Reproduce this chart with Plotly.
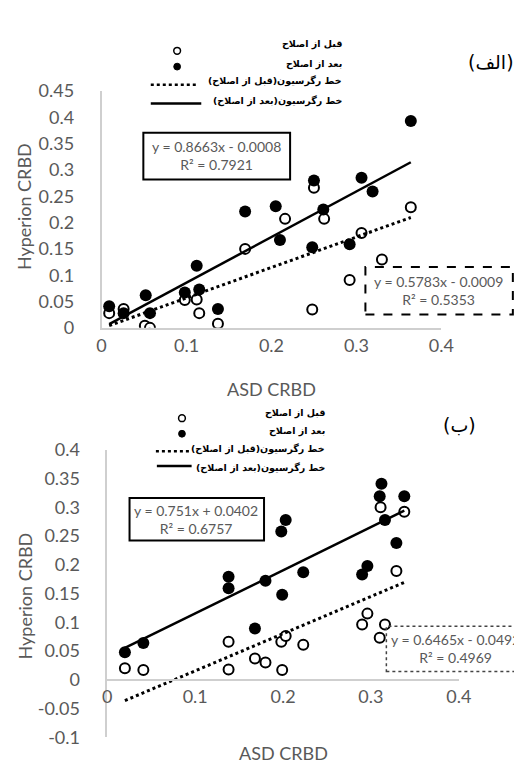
import plotly.graph_objects as go

W, H = 522, 764

# ---------------- data ----------------
# Panel (الف)
a_before_x = [0.009, 0.026, 0.051, 0.057, 0.098, 0.112, 0.115, 0.137, 0.169, 0.216, 0.248, 0.250, 0.262, 0.292, 0.306, 0.330, 0.364]
a_before_y = [0.028, 0.036, 0.004, 0.000, 0.053, 0.054, 0.028, 0.008, 0.150, 0.207, 0.035, 0.266, 0.207, 0.091, 0.180, 0.130, 0.229]
a_after_x = [0.009, 0.026, 0.052, 0.057, 0.098, 0.112, 0.115, 0.137, 0.169, 0.205, 0.210, 0.248, 0.250, 0.261, 0.292, 0.306, 0.319, 0.364]
a_after_y = [0.041, 0.028, 0.062, 0.028, 0.067, 0.118, 0.073, 0.036, 0.221, 0.231, 0.167, 0.153, 0.280, 0.225, 0.159, 0.285, 0.259, 0.393]
a_fit_before = (0.5783, -0.0009, 0.5353)
a_fit_after = (0.8663, -0.0008, 0.7921)

# Panel (ب)
b_before_x = [0.020, 0.041, 0.138, 0.138, 0.168, 0.180, 0.198, 0.203, 0.199, 0.223, 0.290, 0.296, 0.310, 0.316, 0.329, 0.311, 0.338]
b_before_y = [0.020, 0.017, 0.066, 0.018, 0.037, 0.030, 0.066, 0.076, 0.017, 0.061, 0.096, 0.115, 0.073, 0.096, 0.189, 0.300, 0.292]
b_after_x = [0.020, 0.041, 0.138, 0.138, 0.168, 0.180, 0.198, 0.203, 0.199, 0.223, 0.290, 0.296, 0.316, 0.329, 0.312, 0.310, 0.338]
b_after_y = [0.048, 0.064, 0.179, 0.159, 0.089, 0.172, 0.258, 0.278, 0.148, 0.187, 0.183, 0.198, 0.278, 0.238, 0.341, 0.319, 0.319]
b_fit_before = (0.6465, -0.0492, 0.4969)
b_fit_after = (0.751, 0.0402, 0.6757)

x_ticks = [0, 0.1, 0.2, 0.3, 0.4]
x_ticktext = ["0", "0.1", "0.2", "0.3", "0.4"]
a_y_ticks = [0, 0.05, 0.1, 0.15, 0.2, 0.25, 0.3, 0.35, 0.4, 0.45]
a_y_ticktext = ["0", "0.05", "0.1", "0.15", "0.2", "0.25", "0.3", "0.35", "0.4", "0.45"]
b_y_ticks = [-0.1, -0.05, 0, 0.05, 0.1, 0.15, 0.2, 0.25, 0.3, 0.35, 0.4]
b_y_ticktext = ["-0.1", "-0.05", "0", "0.05", "0.1", "0.15", "0.2", "0.25", "0.3", "0.35", "0.4"]

legend_labels = ["قبل از اصلاح", "بعد از اصلاح", "خط رگرسیون(قبل از اصلاح)", "خط رگرسیون(بعد از اصلاح)"]
panel_labels = ["(الف)", "(ب)"]
x_title = "ASD CRBD"
y_title = "Hyperion CRBD"

# ---------------- helpers ----------------
def PX(p):
    return p / W

def PY(p):
    return 1 - p / H

TICK = "#595959"
AXIS = "#cfcfcf"
FONT = "Lato"
RLM = "\u200f"

def rtl(s):
    return RLM + s + RLM

def eq_text(fit):
    m, b, r2 = fit
    sign = "+" if b >= 0 else "-"
    return f"y = {m:g}x {sign} {abs(b):.4f}<br>R² = {r2:.4f}"

fig = go.Figure()

def add_panel(bx, by, ax, ay, fb, fa, xa, ya):
    fig.add_trace(go.Scatter(x=bx, y=by, mode="markers", xaxis=xa, yaxis=ya,
                             marker=dict(symbol="circle", size=10, color="white",
                                         line=dict(color="black", width=2)),
                             showlegend=False))
    fig.add_trace(go.Scatter(x=ax, y=ay, mode="markers", xaxis=xa, yaxis=ya,
                             marker=dict(symbol="circle", size=12, color="black"),
                             showlegend=False))
    lo = min(bx + ax)
    hi = max(bx + ax)
    for fit, dash, wdt in [(fb, "dot", 3), (fa, "solid", 2.5)]:
        m, b, _ = fit
        fig.add_trace(go.Scatter(x=[lo, hi], y=[m * lo + b, m * hi + b], mode="lines",
                                 xaxis=xa, yaxis=ya,
                                 line=dict(color="black", width=wdt, dash=dash),
                                 showlegend=False))

add_panel(a_before_x, a_before_y, a_after_x, a_after_y, a_fit_before, a_fit_after, "x", "y")
add_panel(b_before_x, b_before_y, b_after_x, b_after_y, b_fit_before, b_fit_after, "x2", "y2")

common_x = dict(range=[0, 0.4], tickvals=x_ticks, ticktext=x_ticktext, showgrid=False,
                zeroline=False, showline=True, linecolor=AXIS, linewidth=1.5, ticks="",
                tickfont=dict(family=FONT, size=18, color=TICK), ticklabelstandoff=1)
common_y = dict(showgrid=False, zeroline=False, showline=True, linecolor=AXIS, linewidth=1.5,
                ticks="", tickfont=dict(family=FONT, size=18, color=TICK), ticklabelstandoff=22)

fig.update_layout(
    width=W, height=H, margin=dict(l=0, r=0, t=0, b=0),
    paper_bgcolor="white", plot_bgcolor="white", showlegend=False,
    xaxis=dict(domain=[PX(91.7), PX(443.7)], anchor="y", **common_x),
    yaxis=dict(domain=[PY(317), PY(73)], range=[0, 0.45], tickvals=a_y_ticks,
               ticktext=a_y_ticktext, anchor="x", **common_y),
    xaxis2=dict(domain=[PX(97.7), PX(461.7)], anchor="free", position=PY(679.3), **common_x),
    yaxis2=dict(domain=[PY(738.5), PY(442.5)], range=[-0.1, 0.4], tickvals=b_y_ticks,
                ticktext=b_y_ticktext, anchor="x2", **common_y),
)

shapes = []
annots = []

def text(x, y, s, size, color="black", xanchor="center", family=FONT, angle=0, align="center"):
    annots.append(dict(x=PX(x), y=PY(y), xref="paper", yref="paper", text=s, showarrow=False,
                       xanchor=xanchor, yanchor="middle", textangle=angle, align=align,
                       font=dict(family=family, size=size, color=color)))

# axis titles
text(268, 380, x_title, 18, TICK)
text(12, 192, y_title, 18, TICK, angle=-90)
text(280, 755, x_title, 18, TICK)
text(12, 593, y_title, 18, TICK, angle=-90)

# panel labels
text(495, 43, rtl(panel_labels[0]), 19, family="DejaVu Sans")
text(462, 417, rtl(panel_labels[1]), 19, family="DejaVu Sans")

# legends
def legend(cx, ys, right, mark_ys, dotted, solid):
    ARF = "DejaVu Sans"
    for s, y in zip(legend_labels, ys):
        text(right, y, "<b>" + rtl(s) + "</b>", 9.5, xanchor="right", family=ARF)
    r = 3.5
    shapes.append(dict(type="circle", xref="paper", yref="paper",
                       x0=PX(cx - r), x1=PX(cx + r), y0=PY(mark_ys[0] + r), y1=PY(mark_ys[0] - r),
                       line=dict(color="black", width=1.5), fillcolor="white"))
    shapes.append(dict(type="circle", xref="paper", yref="paper",
                       x0=PX(cx - r), x1=PX(cx + r), y0=PY(mark_ys[1] + r), y1=PY(mark_ys[1] - r),
                       line=dict(color="black", width=1), fillcolor="black"))
    shapes.append(dict(type="line", xref="paper", yref="paper",
                       x0=PX(dotted[0]), x1=PX(dotted[1]), y0=PY(dotted[2]), y1=PY(dotted[2]),
                       line=dict(color="black", width=2.5, dash="dot")))
    shapes.append(dict(type="line", xref="paper", yref="paper",
                       x0=PX(solid[0]), x1=PX(solid[1]), y0=PY(solid[2]), y1=PY(solid[2]),
                       line=dict(color="black", width=2.5)))

legend(170, [25, 45, 63.3, 83.3], 343, [31.7, 48], (142.7, 190, 66.7), (142.7, 195, 86))
legend(175, [404.3, 423.3, 441.7, 461.7], 325, [410, 426], (148, 183, 444), (149, 185, 459.3))

# equation boxes
def box(x0, y0, x1, y1, dash, width, color="black"):
    shapes.append(dict(type="rect", xref="paper", yref="paper",
                       x0=PX(x0), x1=PX(x1), y0=PY(y1), y1=PY(y0),
                       line=dict(color=color, width=width, dash=dash), fillcolor="rgba(0,0,0,0)"))

box(135, 116, 287, 164.3, "solid", 2)
text(211, 140, eq_text(a_fit_after), 14, TICK)
box(365, 254.3, 517.7, 303.3, "dash", 2)
text(441, 279, eq_text(a_fit_before), 14, TICK)
box(120.7, 492.3, 260, 536, "solid", 2)
text(190, 514, eq_text(b_fit_after), 14, TICK)
box(386.7, 624.3, 540, 670.7, "dot", 1.5, "#444444")
text(389, 647.5, eq_text(b_fit_before), 14, TICK, xanchor="left")

fig.update_layout(shapes=shapes, annotations=annots)
fig.write_html("out.html")
